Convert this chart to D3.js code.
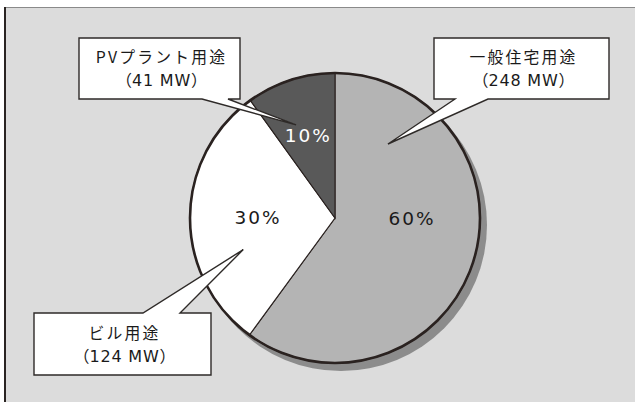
<!DOCTYPE html>
<html><head><meta charset="utf-8">
<script src="https://cdn.jsdelivr.net/npm/d3@7"></script>
<style>
html,body{margin:0;padding:0;background:#fff;}
svg{display:block;}
</style></head>
<body>
<svg id="chart" width="635" height="402"></svg>
<script>
// ---- data ----
const categories = ["一般住宅用途", "ビル用途", "PVプラント用途"];
const capacityMW = [248, 124, 41];
const sliceColors = ["#b4b4b4", "#ffffff", "#595959"];
const pctColors = ["#1a1a1a", "#1a1a1a", "#ffffff"];

// ---- layout ----
const W = 635, H = 402;
const cx = 335, cy = 218, R = 145;
const callouts = [
  {box:[434,38,609,99], side:"bottom", b:[488,455], tipA:35.6, tipR:91},
  {box:[34,313,211,375], side:"top", b:[143,180], tipA:251, tipR:97},
  {box:[79,38,240,99], side:"bottom", b:[228,202], tipA:-22.7, tipR:101}
];

const svg = d3.select("#chart");
// panel
svg.append("rect").attr("x",4).attr("y",7).attr("width",W-4).attr("height",H-7).attr("fill","#dcdcdc");
svg.append("line").attr("x1",4).attr("x2",W).attr("y1",7.5).attr("y2",7.5).attr("stroke","#8a8a8a").attr("stroke-width",1.2);
svg.append("line").attr("x1",5).attr("x2",5).attr("y1",7).attr("y2",H).attr("stroke","#2a2422").attr("stroke-width",2);

const total = d3.sum(capacityMW);
const data = categories.map((c,i)=>({cat:c, v:capacityMW[i], i}));
const pie = d3.pie().sort(null).value(d=>d.v);
const arcs = pie(data);
const arc = d3.arc().innerRadius(0).outerRadius(R);

const g = svg.append("g").attr("transform",`translate(${cx},${cy})`);
// shadow
g.append("circle").attr("cx",6).attr("cy",7).attr("r",R+1).attr("fill","#8c8c8c");
// slices
g.selectAll("path.slice").data(arcs).join("path").attr("class","slice")
  .attr("d",arc).attr("fill",d=>sliceColors[d.index])
  .attr("stroke","#2a2220").attr("stroke-width",1.1).attr("stroke-linejoin","miter");
// outer outline
g.append("circle").attr("r",R).attr("fill","none").attr("stroke","#2a2220").attr("stroke-width",2.6);

// percent labels
g.selectAll("text.pct").data(arcs).join("text").attr("class","pct")
  .attr("transform",d=>{
    const share = d.data.v/total;
    const mid = (d.startAngle+d.endAngle)/2;
    let ang = mid, r = share < 0.2 ? 87 : 77;
    if (share > 0.5) ang = Math.PI/2;
    return `translate(${r*Math.sin(ang)},${-r*Math.cos(ang)})`;
  })
  .attr("text-anchor","middle").attr("dy","0.36em")
  .attr("font-family","DejaVu Sans, sans-serif").attr("font-size",18.5).attr("letter-spacing",2)
  .attr("fill",d=>pctColors[d.index])
  .text(d=>Math.round(d.data.v/total*100)+"%");

// callouts
const cg = svg.append("g");
data.forEach((d,i)=>{
  const c = callouts[i];
  const [x0,y0,x1,y1] = c.box;
  const a = c.tipA*Math.PI/180;
  const tx = cx + c.tipR*Math.sin(a), ty = cy - c.tipR*Math.cos(a);
  const p = d3.path();
  if (c.side==="bottom"){
    p.moveTo(x0,y0); p.lineTo(x1,y0); p.lineTo(x1,y1);
    p.lineTo(c.b[0],y1); p.lineTo(tx,ty); p.lineTo(c.b[1],y1);
    p.lineTo(x0,y1); p.closePath();
  } else {
    p.moveTo(x0,y0); p.lineTo(c.b[0],y0); p.lineTo(tx,ty); p.lineTo(c.b[1],y0);
    p.lineTo(x1,y0); p.lineTo(x1,y1); p.lineTo(x0,y1); p.closePath();
  }
  cg.append("path").attr("d",p.toString()).attr("fill","#fff")
    .attr("stroke","#2e2a28").attr("stroke-width",1.4).attr("stroke-linejoin","miter");
  const mx = (x0+x1)/2 + 2, my = (y0+y1)/2;
  cg.append("text").attr("text-anchor","middle")
    .attr("x",mx).attr("y",my-11).attr("dy","0.36em")
    .attr("font-family","Noto Sans CJK JP, sans-serif").attr("font-size",15.8)
    .attr("letter-spacing",2.2).attr("fill","#1a1a1a").text(d.cat);
  const t2 = cg.append("text").attr("text-anchor","middle")
    .attr("x",mx).attr("y",my+12).attr("dy","0.36em")
    .attr("font-family","DejaVu Sans, sans-serif").attr("font-size",16)
    .attr("letter-spacing",0.8).attr("fill","#1a1a1a");
  t2.append("tspan").attr("font-family","Noto Sans CJK JP").attr("letter-spacing",0).text("（");
  t2.append("tspan").text(d.v+" MW");
  t2.append("tspan").attr("font-family","Noto Sans CJK JP").attr("letter-spacing",0).text("）");
});
</script>
</body></html>
